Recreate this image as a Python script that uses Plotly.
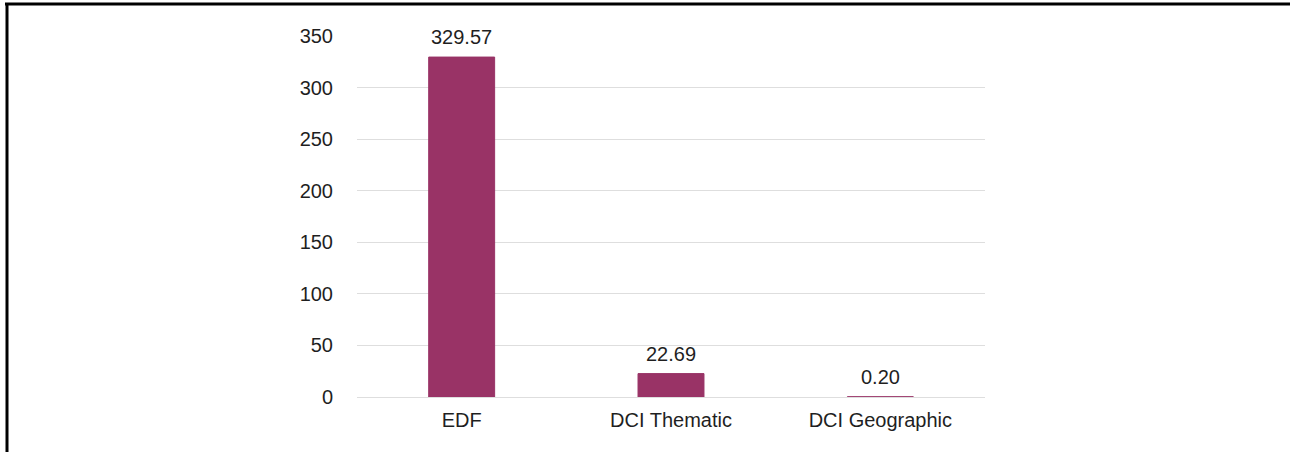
import plotly.graph_objects as go

# Funding by instrument
categories = ["EDF", "DCI Thematic", "DCI Geographic"]
values = [329.57, 22.69, 0.20]
value_labels = ["329.57", "22.69", "0.20"]
y_ticks = [0, 50, 100, 150, 200, 250, 300, 350]

BAR_COLOR = "#993366"
GRID_COLOR = "#dedede"
TEXT_COLOR = "#1f1f1f"
FONT = "Liberation Sans, Arial, sans-serif"
FONT_SIZE = 20

W, H = 1290, 452
M_L, M_R, M_T, M_B = 357, 305, 36, 55
plot_w = W - M_L - M_R
plot_h = H - M_T - M_B


def px_to_paper_x(px):
    return (px - M_L) / plot_w


def px_to_paper_y(py):
    return (H - M_B - py) / plot_h


fig = go.Figure()
fig.add_trace(go.Bar(
    x=categories,
    y=values,
    marker=dict(color=BAR_COLOR, line=dict(color=BAR_COLOR, width=1)),
    width=0.315,
    hoverinfo="x+y",
))

# value labels above each bar
for cat, val, lab in zip(categories, values, value_labels):
    fig.add_annotation(
        x=cat, y=val, text=lab, showarrow=False,
        xref="x", yref="y", yanchor="bottom", yshift=7,
        font=dict(family=FONT, size=FONT_SIZE, color=TEXT_COLOR),
    )

# frame lines along the top and left edges of the page
fig.add_shape(type="line", xref="paper", yref="paper",
              x0=px_to_paper_x(5), x1=px_to_paper_x(W + 5),
              y0=px_to_paper_y(4), y1=px_to_paper_y(4),
              line=dict(color="black", width=3))
fig.add_shape(type="line", xref="paper", yref="paper",
              x0=px_to_paper_x(7), x1=px_to_paper_x(7),
              y0=px_to_paper_y(3), y1=px_to_paper_y(H + 5),
              line=dict(color="black", width=3))

fig.update_layout(
    width=W, height=H,
    margin=dict(l=M_L, r=M_R, t=M_T, b=M_B, pad=0),
    paper_bgcolor="white", plot_bgcolor="white",
    showlegend=False,
    font=dict(family=FONT, size=FONT_SIZE, color=TEXT_COLOR),
    xaxis=dict(
        showgrid=False, showline=False, zeroline=False,
        ticks="", ticklabelstandoff=9,
        tickfont=dict(family=FONT, size=FONT_SIZE, color=TEXT_COLOR),
    ),
    yaxis=dict(
        range=[0, 350], tickvals=y_ticks,
        showgrid=True, gridcolor=GRID_COLOR, gridwidth=1,
        zeroline=True, zerolinecolor=GRID_COLOR, zerolinewidth=1,
        showline=False, ticks="", ticklabelstandoff=23,
        tickfont=dict(family=FONT, size=FONT_SIZE, color=TEXT_COLOR),
    ),
)

fig.write_html("out.html")
